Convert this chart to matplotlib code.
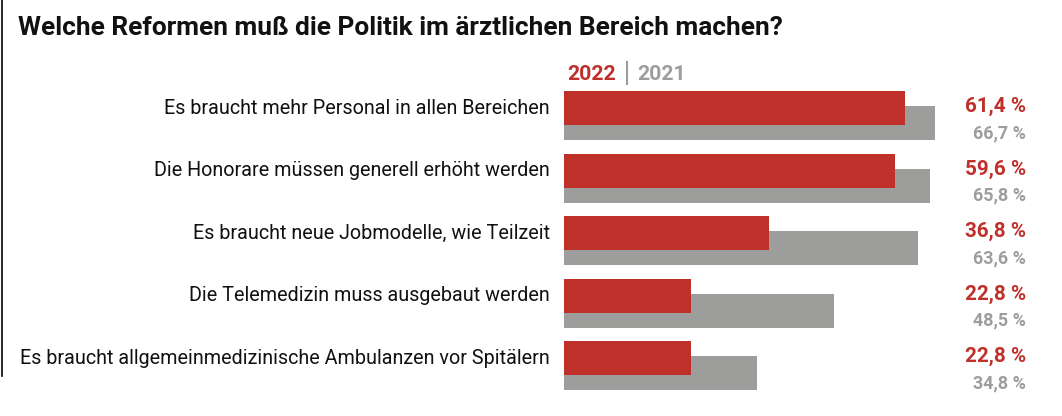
import matplotlib.pyplot as plt

# Daten
kategorien = [
    "Es braucht mehr Personal in allen Bereichen",
    "Die Honorare müssen generell erhöht werden",
    "Es braucht neue Jobmodelle, wie Teilzeit",
    "Die Telemedizin muss ausgebaut werden",
    "Es braucht allgemeinmedizinische Ambulanzen vor Spitälern",
]
werte_2022 = [61.4, 59.6, 36.8, 22.8, 22.8]
werte_2021 = [66.7, 65.8, 63.6, 48.5, 34.8]

ROT = "#C0302B"
GRAU = "#9D9D9C"
W, H = 1062, 416


def fmt(v):
    return f"{v:.1f} %".replace(".", ",")


plt.rcParams["font.family"] = ["Roboto", "DejaVu Sans"]
fig = plt.figure(figsize=(W / 100, H / 100), dpi=100)
renderer = fig.canvas.get_renderer()


def breite_anpassen(texte, ziel):
    # Schriftgröße so setzen, dass der breiteste Text die Zielbreite hat
    b = max(t.get_window_extent(renderer).width for t in texte)
    for t in texte:
        t.set_fontsize(t.get_fontsize() * ziel / b)


# Achse: x in Prozent (5,56 px pro %), y in Zeilen (62,5 px pro Zeile)
px_pro_prozent = 5.56
links = 564
ax = fig.add_axes([links / W, 0, 100 * px_pro_prozent / W, 1])
ax.set_xlim(0, 100)
off = 108 / 62.5
ax.set_ylim((H - 108) / 62.5, -off)
ax.axis("off")

pos = list(range(len(kategorien)))
ax.barh([p + 0.24 for p in pos], werte_2021, height=0.544, color=GRAU, zorder=1)
ax.barh(pos, werte_2022, height=0.544, color=ROT, zorder=2)

x_label = (550 - links) / px_pro_prozent
x_wert = (1026 - links) / px_pro_prozent
labels, rot_t, grau_t = [], [], []
for i, (k, a, b) in enumerate(zip(kategorien, werte_2022, werte_2021)):
    labels.append(ax.text(x_label, i, k, ha="right", va="center", fontsize=14,
                          color="#111111", clip_on=False))
    rot_t.append(ax.text(x_wert, i - 0.02, fmt(a), ha="right", va="center", fontsize=14,
                         fontweight="bold", color=ROT, clip_on=False))
    grau_t.append(ax.text(x_wert, i + 0.40, fmt(b), ha="right", va="center", fontsize=12,
                          fontweight="bold", color=GRAU, clip_on=False))
breite_anpassen(labels, 532)
breite_anpassen(rot_t, 61)
breite_anpassen(grau_t, 53)

# Legende
l1 = fig.text(567 / W, 1 - 74 / H, "2022", color=ROT, fontsize=15, fontweight="bold", va="center")
l2 = fig.text(637 / W, 1 - 74 / H, "2021", color=GRAU, fontsize=15, fontweight="bold", va="center")
breite_anpassen([l1, l2], 49)
fig.add_artist(plt.Line2D([627 / W, 627 / W], [1 - 62 / H, 1 - 84 / H], color=GRAU, lw=1.5))

# Titel
titel = fig.text(18 / W, 1 - 28 / H, "Welche Reformen muß die Politik im ärztlichen Bereich machen?",
                 fontsize=17, fontweight="bold", va="center", color="#111111")
breite_anpassen([titel], 767)

# senkrechte Linie links
fig.add_artist(plt.Line2D([1.5 / W, 1.5 / W], [1, 1 - 376 / H], color="black", lw=1.2))

fig.savefig("out.png", dpi=100)
